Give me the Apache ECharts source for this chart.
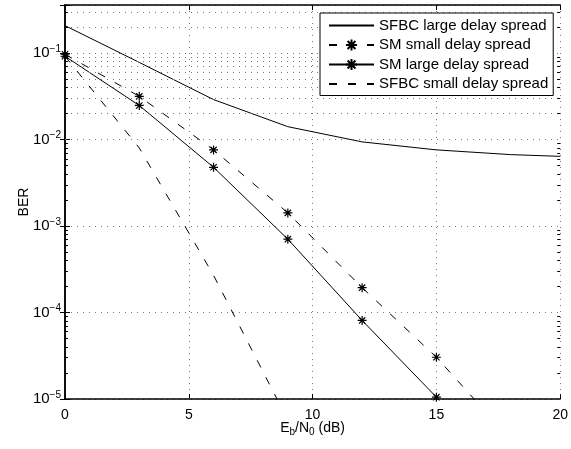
<!DOCTYPE html>
<html><head><meta charset="utf-8">
<script src="https://cdn.jsdelivr.net/npm/echarts@6/dist/echarts.min.js"></script>
<style>html,body{margin:0;padding:0;background:#fff}#c{width:571px;height:449px}</style>
</head><body><div id="c"></div>
<script>
// ---- data ----
const seriesNames = ['SFBC large delay spread', 'SM small delay spread', 'SM large delay spread', 'SFBC small delay spread'];
const xSfbcLarge = [0, 3, 6, 9, 12, 15, 18, 20];
const sfbcLarge  = [0.208, 0.078, 0.029, 0.0141, 0.0094, 0.0076, 0.0067, 0.0064];
const xSmSmall   = [0, 3, 6, 9, 12, 15, 18];
const smSmall    = [0.097, 0.0316, 0.0076, 0.00142, 0.000194, 0.0000304, 0.0000034];
const xSmLarge   = [0, 3, 6, 9, 12, 15];
const smLarge    = [0.092, 0.0248, 0.00478, 0.000705, 0.000081, 0.0000105];
const xSfbcSmall = [0, 3, 6, 9];
const sfbcSmall  = [0.092, 0.0080, 0.000269, 0.0000057];
const xMin = 0, xMax = 20, xStep = 5;
const yMin = 1e-5, yMax = 0.36;
const xLabel = 'E{sub|b}/N{sub|0} (dB)';
const yLabel = 'BER';

const FONT = '"Liberation Sans", Arial, Helvetica, sans-serif';
const zip = (xs, ys) => xs.map((x, i) => [x, ys[i]]);

// minor log grid positions (2..9 x decade)
const minorVals = [];
for (let e = -5; e <= 0; e++) {
  for (let m = 2; m <= 9; m++) {
    const v = m * Math.pow(10, e);
    if (v > yMin && v < yMax) minorVals.push(v);
  }
}
const dotStyle = { color: '#777', width: 1, type: [1, 5] };
const gridLines = minorVals.map(v => ({ yAxis: v }));
const minorTicksL = minorVals.map(v => [{ coord: [xMin, v] }, { coord: [xMin + 0.12, v] }]);
const minorTicksR = minorVals.map(v => [{ coord: [xMax - 0.12, v] }, { coord: [xMax, v] }]);

const star = 'path://M5,0L5,10M0,5L10,5M1.5,1.5L8.5,8.5M1.5,8.5L8.5,1.5';
const dashed = [8, 11];
const hasMarker = [false, true, true, false];

function lineSeries(name, xs, ys, dash, marker) {
  return {
    name, type: 'line', data: zip(xs, ys), xAxisIndex: 0, yAxisIndex: 0,
    clip: true, showAllSymbol: true,
    symbol: marker ? star : 'none', symbolSize: 9,
    itemStyle: { color: 'rgba(0,0,0,0)', borderColor: '#000', borderWidth: 1.2 },
    lineStyle: { color: '#000', width: 1, type: dash ? dashed : 'solid' },
    emphasis: { disabled: true }, z: 3
  };
}

const supLabel = v => {
  const l = Math.log10(v);
  const e = Math.round(l);
  if (Math.abs(l - e) > 1e-6) return '';
  return '10{sup|' + (e < 0 ? '\u2212' : '') + Math.abs(e) + '}';
};

const legendData = seriesNames.map((n, i) => hasMarker[i] ? { name: n } :
  { name: n, itemStyle: { opacity: 0, color: 'rgba(0,0,0,0)', borderColor: 'rgba(0,0,0,0)', borderWidth: 0 } });

const chart = echarts.init(document.getElementById('c'), null, { renderer: 'canvas' });
chart.setOption({
  animation: false,
  backgroundColor: '#fff',
  textStyle: { fontFamily: FONT },
  grid: { left: 65, right: 7, top: 5, bottom: 50, containLabel: false },
  legend: {
    data: legendData, orient: 'vertical', left: 320, top: 13,
    itemWidth: 45, itemHeight: 14, itemGap: 4.5,
    padding: [5, 5, 4, 8], borderColor: '#000', borderWidth: 1, backgroundColor: '#fff',
    textStyle: { fontSize: 15, color: '#000', fontFamily: FONT },
    selectedMode: false, z: 10
  },
  xAxis: [{
    type: 'value', min: xMin, max: xMax, interval: xStep, position: 'bottom',
    name: xLabel, nameLocation: 'middle', nameGap: 20, nameMoveOverlap: false,
    nameTextStyle: {
      color: '#000', fontSize: 14, fontFamily: FONT,
      rich: { sub: { fontSize: 10, verticalAlign: 'bottom', padding: [8, 0, 0, 0], fontFamily: FONT, color: '#000' } }
    },
    axisLine: { show: true, lineStyle: { color: '#000', width: 1.5 } },
    axisTick: { show: true, inside: true, length: 5, lineStyle: { color: '#000' } },
    axisLabel: { color: '#000', fontSize: 14, margin: 9, fontFamily: FONT },
    splitLine: { show: true, lineStyle: dotStyle }
  }, {
    type: 'value', min: xMin, max: xMax, interval: xStep, position: 'top',
    axisLine: { show: true, lineStyle: { color: '#000', width: 1.5 } },
    axisTick: { show: true, inside: true, length: 5, lineStyle: { color: '#000' } },
    axisLabel: { show: false }, splitLine: { show: false }
  }],
  yAxis: [{
    type: 'log', logBase: 10, min: yMin, max: yMax, interval: 1, position: 'left',
    name: yLabel, nameLocation: 'middle', nameGap: 34, nameRotate: 90, nameMoveOverlap: false,
    nameTextStyle: { color: '#000', fontSize: 14, fontFamily: FONT },
    axisLine: { show: true, lineStyle: { color: '#000', width: 1.5 } },
    axisTick: { show: true, inside: true, length: 5, lineStyle: { color: '#000' } },
    axisLabel: {
      color: '#000', fontSize: 15, margin: 4, fontFamily: FONT, formatter: supLabel,
      rich: { sup: { fontSize: 10, verticalAlign: 'top', padding: [0, 0, 8, 0], fontFamily: FONT, color: '#000' } }
    },
    splitLine: { show: true, lineStyle: dotStyle }
  }, {
    type: 'log', logBase: 10, min: yMin, max: yMax, interval: 1, position: 'right',
    axisLine: { show: true, lineStyle: { color: '#000', width: 1.5 } },
    axisTick: { show: true, inside: true, length: 5, lineStyle: { color: '#000' } },
    axisLabel: { show: false }, splitLine: { show: false }
  }],
  series: [
    lineSeries(seriesNames[0], xSfbcLarge, sfbcLarge, false, hasMarker[0]),
    lineSeries(seriesNames[1], xSmSmall, smSmall, true, hasMarker[1]),
    lineSeries(seriesNames[2], xSmLarge, smLarge, false, hasMarker[2]),
    lineSeries(seriesNames[3], xSfbcSmall, sfbcSmall, true, hasMarker[3]),
    {
      name: 'grid', type: 'line', data: [], xAxisIndex: 0, yAxisIndex: 0, silent: true, z: 1,
      markLine: {
        silent: true, symbol: 'none', label: { show: false }, animation: false,
        emphasis: { disabled: true },
        lineStyle: dotStyle,
        data: gridLines
      }
    },
    {
      name: 'minorticks', type: 'line', data: [], xAxisIndex: 0, yAxisIndex: 0, silent: true, z: 2,
      markLine: {
        silent: true, symbol: 'none', label: { show: false }, animation: false,
        emphasis: { disabled: true },
        lineStyle: { color: '#000', width: 1, type: 'solid' },
        data: minorTicksL.concat(minorTicksR)
      }
    }
  ]
});
</script>
</body></html>
